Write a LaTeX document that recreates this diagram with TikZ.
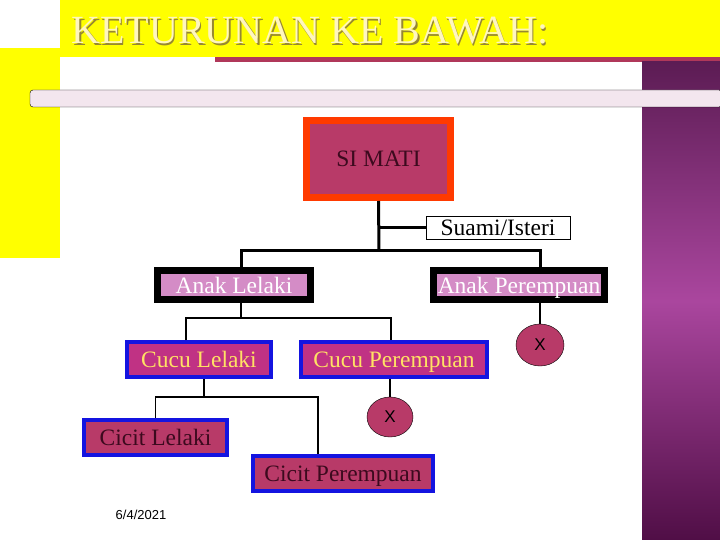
\documentclass[tikz,border=0pt]{standalone}
\usepackage{fontspec}
\setmainfont{Liberation Serif}
\newfontfamily\datefont{Liberation Sans}
\usetikzlibrary{shapes.geometric,positioning}
\definecolor{slideyellow}{RGB}{255,255,0}
\definecolor{rule}{RGB}{176,56,90}
\definecolor{plumtop}{RGB}{92,28,84}
\definecolor{plummid}{RGB}{170,70,158}
\definecolor{plumbot}{RGB}{80,14,70}
\definecolor{barfill}{RGB}{243,230,238}
\definecolor{rose}{RGB}{184,58,104}
\definecolor{flame}{RGB}{255,58,0}
\definecolor{orchid}{RGB}{212,140,198}
\definecolor{magenta}{RGB}{192,50,132}
\definecolor{royal}{RGB}{20,20,224}
\definecolor{gold}{RGB}{255,226,100}
\definecolor{darkrose}{RGB}{60,10,30}
\definecolor{titlefill}{RGB}{255,246,190}
\definecolor{titleshade}{RGB}{150,135,50}
\tikzset{
  big/.style={font=\fontsize{23.5}{26}\selectfont,inner sep=0pt,align=center,
    text height=19pt,text depth=3pt},
  dead/.style={big,draw=flame,line width=7pt,fill=rose,text=darkrose,
    minimum width=144pt,minimum height=77pt},
  spouse/.style={big,draw=black,line width=0.8pt,fill=white,
    minimum width=144pt,minimum height=23pt},
  child/.style={big,draw=black,line width=7pt,fill=orchid,text=white,minimum height=29pt},
  grand/.style={big,draw=royal,line width=4pt,fill=magenta,text=gold,minimum height=35pt},
  great/.style={big,draw=royal,line width=4pt,fill=rose,text=darkrose,minimum height=35pt},
  none/.style={ellipse,draw=black,thin,fill=rose,inner sep=0pt,
    font=\datefont\fontsize{17}{18}\selectfont},
  trunk/.style={line width=3pt},
  twig/.style={line width=1.4pt},
}
\begin{document}
\begin{tikzpicture}[x=1pt,y=-1pt]
  \useasboundingbox (0,0) rectangle (720,540);
  % slide background
  \fill[white] (0,0) rectangle (720,540);
  \fill[slideyellow] (60,0) rectangle (720,57);
  \fill[slideyellow] (0,48) rectangle (60,258);
  \fill[rule] (215,57) rectangle (720,62);
  \shade[top color=plumtop,bottom color=plumbot,middle color=plummid] (642,62) rectangle (720,540);
  \draw[black,thin,fill=barfill,rounded corners=3pt] (30,90) rectangle (722,107);
  % title
  \node[anchor=west,text=titleshade,font=\fontsize{40}{44}\selectfont] at (69.5,32.5) {KETURUNAN KE BAWAH:};
  \node[anchor=west,text=titlefill,font=\fontsize{40}{44}\selectfont] (title) at (68,31) {KETURUNAN KE BAWAH:};
  % family tree
  \node[dead] (simati) at (378.5,159) {SI MATI};
  \node[spouse] (suami) at (498,227.5) {Suami/Isteri};
  \node[child,minimum width=153pt] (anakl) at (234,285) {Anak Lelaki};
  \node[child,minimum width=171pt] (anakp) at (519,285) {Anak Perempuan};
  \node[grand,minimum width=144pt] (cuculk) at (199,359.5) {Cucu Lelaki};
  \node[grand,minimum width=186pt] (cucupr) at (394,359.5) {Cucu Perempuan};
  \node[none,minimum width=48pt,minimum height=42pt] (x1) at (540,345) {X};
  \node[none,minimum width=46pt,minimum height=40pt] (x2) at (390,417) {X};
  \node[great,minimum width=143pt] (cicitlk) at (155.5,437.5) {Cicit Lelaki};
  \node[great,minimum width=180pt] (cicitpr) at (343,473.5) {Cicit Perempuan};
  \coordinate (j1) at (379,250);
  \coordinate (j2) at (241,318);
  \coordinate (j3) at (204,397);
  % connectors
  \draw[trunk] (simati.south) -- (j1);
  \draw[trunk] (simati.south |- suami.west) -- (suami.west);
  \draw[trunk] ([xshift=7pt]anakl.north) |- (j1) -| ([xshift=21pt]anakp.north);
  \draw[twig] ([xshift=7pt]anakl.south) -- (j2);
  \draw[twig] ([xshift=-13pt]cuculk.north) |- (j2) -| ([xshift=-3pt]cucupr.north);
  \draw[twig] ([xshift=21pt]anakp.south) -- (x1.north);
  \draw[twig] ([xshift=-4pt]cucupr.south) -- (x2.north);
  \draw[twig] ([xshift=5pt]cuculk.south) -- (j3);
  \draw[twig] (cicitlk.north) |- (j3) -| ([xshift=-25pt]cicitpr.north);
  % footer
  \node[font=\datefont\fontsize{13}{14}\selectfont] (date) at (141,515) {6/4/2021};
\end{tikzpicture}
\end{document}
